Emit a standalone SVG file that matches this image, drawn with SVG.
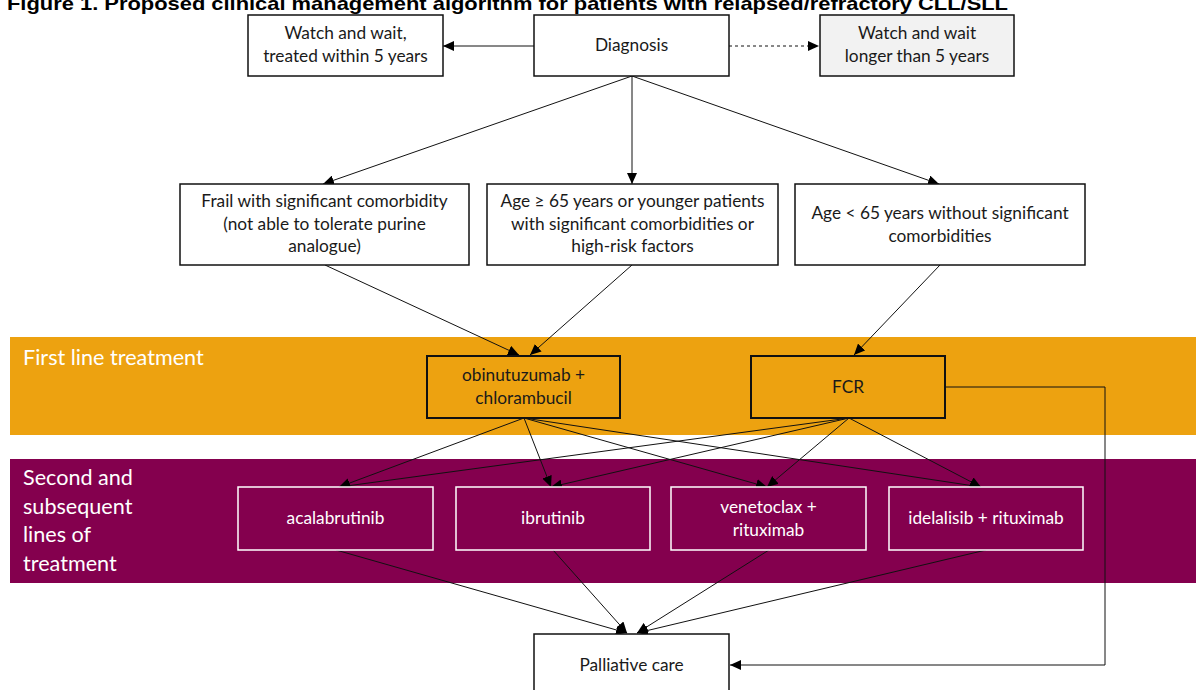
<svg xmlns="http://www.w3.org/2000/svg" width="1196" height="690" viewBox="0 0 1196 690">
<defs>
<marker id="ah" markerUnits="userSpaceOnUse" markerWidth="12" markerHeight="10" refX="11" refY="5" orient="auto">
<path d="M0,0 L11,5 L0,10 Z" fill="#000"/>
</marker>
<style>
.t{font-family:Lato,"Open Sans","Liberation Sans",sans-serif;font-size:17.3px;fill:#1a1a1a;text-anchor:middle}
.w{font-family:Lato,"Open Sans","Liberation Sans",sans-serif;font-size:17.3px;fill:#fff;text-anchor:middle}
.band{font-family:Lato,"Open Sans","Liberation Sans",sans-serif;font-size:21.6px;fill:#fff}
.bx{fill:#fff;stroke:#111;stroke-width:1.5}
.ob{fill:#EDA210;stroke:#111;stroke-width:2}
.pb{fill:#84004E;stroke:#fff;stroke-width:1.5}
.c{fill:none;stroke:#111;stroke-width:1;marker-end:url(#ah)}
</style>
</defs>
<rect width="1196" height="690" fill="#fff"/>
<text x="7" y="9.5" font-family="'Liberation Sans',Arial,sans-serif" font-weight="bold" font-size="19" fill="#000" textLength="1001" lengthAdjust="spacingAndGlyphs">Figure 1. Proposed clinical management algorithm for patients with relapsed/refractory CLL/SLL</text>

<g id="band-first">
<rect x="10" y="337" width="1186" height="98" fill="#EDA210"/>
<text class="band" x="23" y="365">First line treatment</text>
</g>
<g id="band-second">
<rect x="10" y="459" width="1186" height="124" fill="#84004E"/>
<text class="band" x="23" y="485">Second and</text>
<text class="band" x="23" y="513.5">subsequent</text>
<text class="band" x="23" y="542">lines of</text>
<text class="band" x="23" y="570.5">treatment</text>
</g>

<g id="connectors">
<line class="c" x1="534" y1="46" x2="443" y2="46"/>
<line class="c" x1="729" y1="46" x2="819" y2="46" stroke-dasharray="3,3"/>
<line class="c" x1="632" y1="76" x2="323" y2="184"/>
<line class="c" x1="632" y1="76" x2="632" y2="184"/>
<line class="c" x1="632" y1="76" x2="939" y2="184"/>
<line class="c" x1="325" y1="265" x2="519" y2="355"/>
<line class="c" x1="632" y1="265" x2="530" y2="355"/>
<line class="c" x1="940" y1="265" x2="854" y2="355"/>
<line class="c" x1="524" y1="418" x2="339" y2="487"/>
<line class="c" x1="524" y1="418" x2="551" y2="487"/>
<line class="c" x1="524" y1="418" x2="767" y2="487"/>
<line class="c" x1="524" y1="418" x2="981" y2="487"/>
<line class="c" x1="849" y1="418" x2="339" y2="487"/>
<line class="c" x1="849" y1="418" x2="551" y2="487"/>
<line class="c" x1="849" y1="418" x2="767" y2="487"/>
<line class="c" x1="849" y1="418" x2="981" y2="487"/>
<line class="c" x1="336" y1="550" x2="627" y2="633"/>
<line class="c" x1="553" y1="550" x2="627" y2="633"/>
<line class="c" x1="769" y1="550" x2="637" y2="633"/>
<line class="c" x1="986" y1="550" x2="637" y2="633"/>
<polyline class="c" points="945,387 1105,387 1105,665 730,665"/>
</g>

<g id="n-watch5">
<rect class="bx" x="248" y="15" width="195" height="61"/>
<text class="t" x="345.5" y="39">Watch and wait,</text>
<text class="t" x="345.5" y="62">treated within 5 years</text>
</g>
<g id="n-diagnosis">
<rect class="bx" x="534" y="15" width="195" height="61"/>
<text class="t" x="631.5" y="51">Diagnosis</text>
</g>
<g id="n-watchlonger">
<rect class="bx" x="820" y="15" width="194" height="61" style="fill:#f2f2f2"/>
<text class="t" x="917" y="39">Watch and wait</text>
<text class="t" x="917" y="62">longer than 5 years</text>
</g>
<g id="n-frail">
<rect class="bx" x="180" y="184" width="289" height="81"/>
<text class="t" x="324.5" y="207">Frail with significant comorbidity</text>
<text class="t" x="324.5" y="230">(not able to tolerate purine</text>
<text class="t" x="324.5" y="252">analogue)</text>
</g>
<g id="n-age65">
<rect class="bx" x="487" y="184" width="291" height="81"/>
<text class="t" x="632.5" y="207">Age ≥ 65 years or younger patients</text>
<text class="t" x="632.5" y="230">with significant comorbidities or</text>
<text class="t" x="632.5" y="252">high-risk factors</text>
</g>
<g id="n-young">
<rect class="bx" x="795" y="184" width="290" height="81"/>
<text class="t" x="940" y="219">Age &lt; 65 years without significant</text>
<text class="t" x="940" y="242">comorbidities</text>
</g>
<g id="n-obin">
<rect class="ob" x="427" y="356" width="193" height="62"/>
<text class="t" x="523.5" y="381">obinutuzumab +</text>
<text class="t" x="523.5" y="404">chlorambucil</text>
</g>
<g id="n-fcr">
<rect class="ob" x="751" y="356" width="194" height="62"/>
<text class="t" x="848" y="393">FCR</text>
</g>
<g id="n-acala">
<rect class="pb" x="238" y="487" width="195" height="63"/>
<text class="w" x="335.5" y="524">acalabrutinib</text>
</g>
<g id="n-ibru">
<rect class="pb" x="456" y="487" width="194" height="63"/>
<text class="w" x="553" y="524">ibrutinib</text>
</g>
<g id="n-veneto">
<rect class="pb" x="671" y="487" width="195" height="63"/>
<text class="w" x="768.5" y="513">venetoclax +</text>
<text class="w" x="768.5" y="536">rituximab</text>
</g>
<g id="n-idela">
<rect class="pb" x="889" y="487" width="194" height="63"/>
<text class="w" x="986" y="524">idelalisib + rituximab</text>
</g>
<g id="n-palliative">
<rect class="bx" x="534" y="634" width="195" height="60"/>
<text class="t" x="631.5" y="671">Palliative care</text>
</g>
</svg>
